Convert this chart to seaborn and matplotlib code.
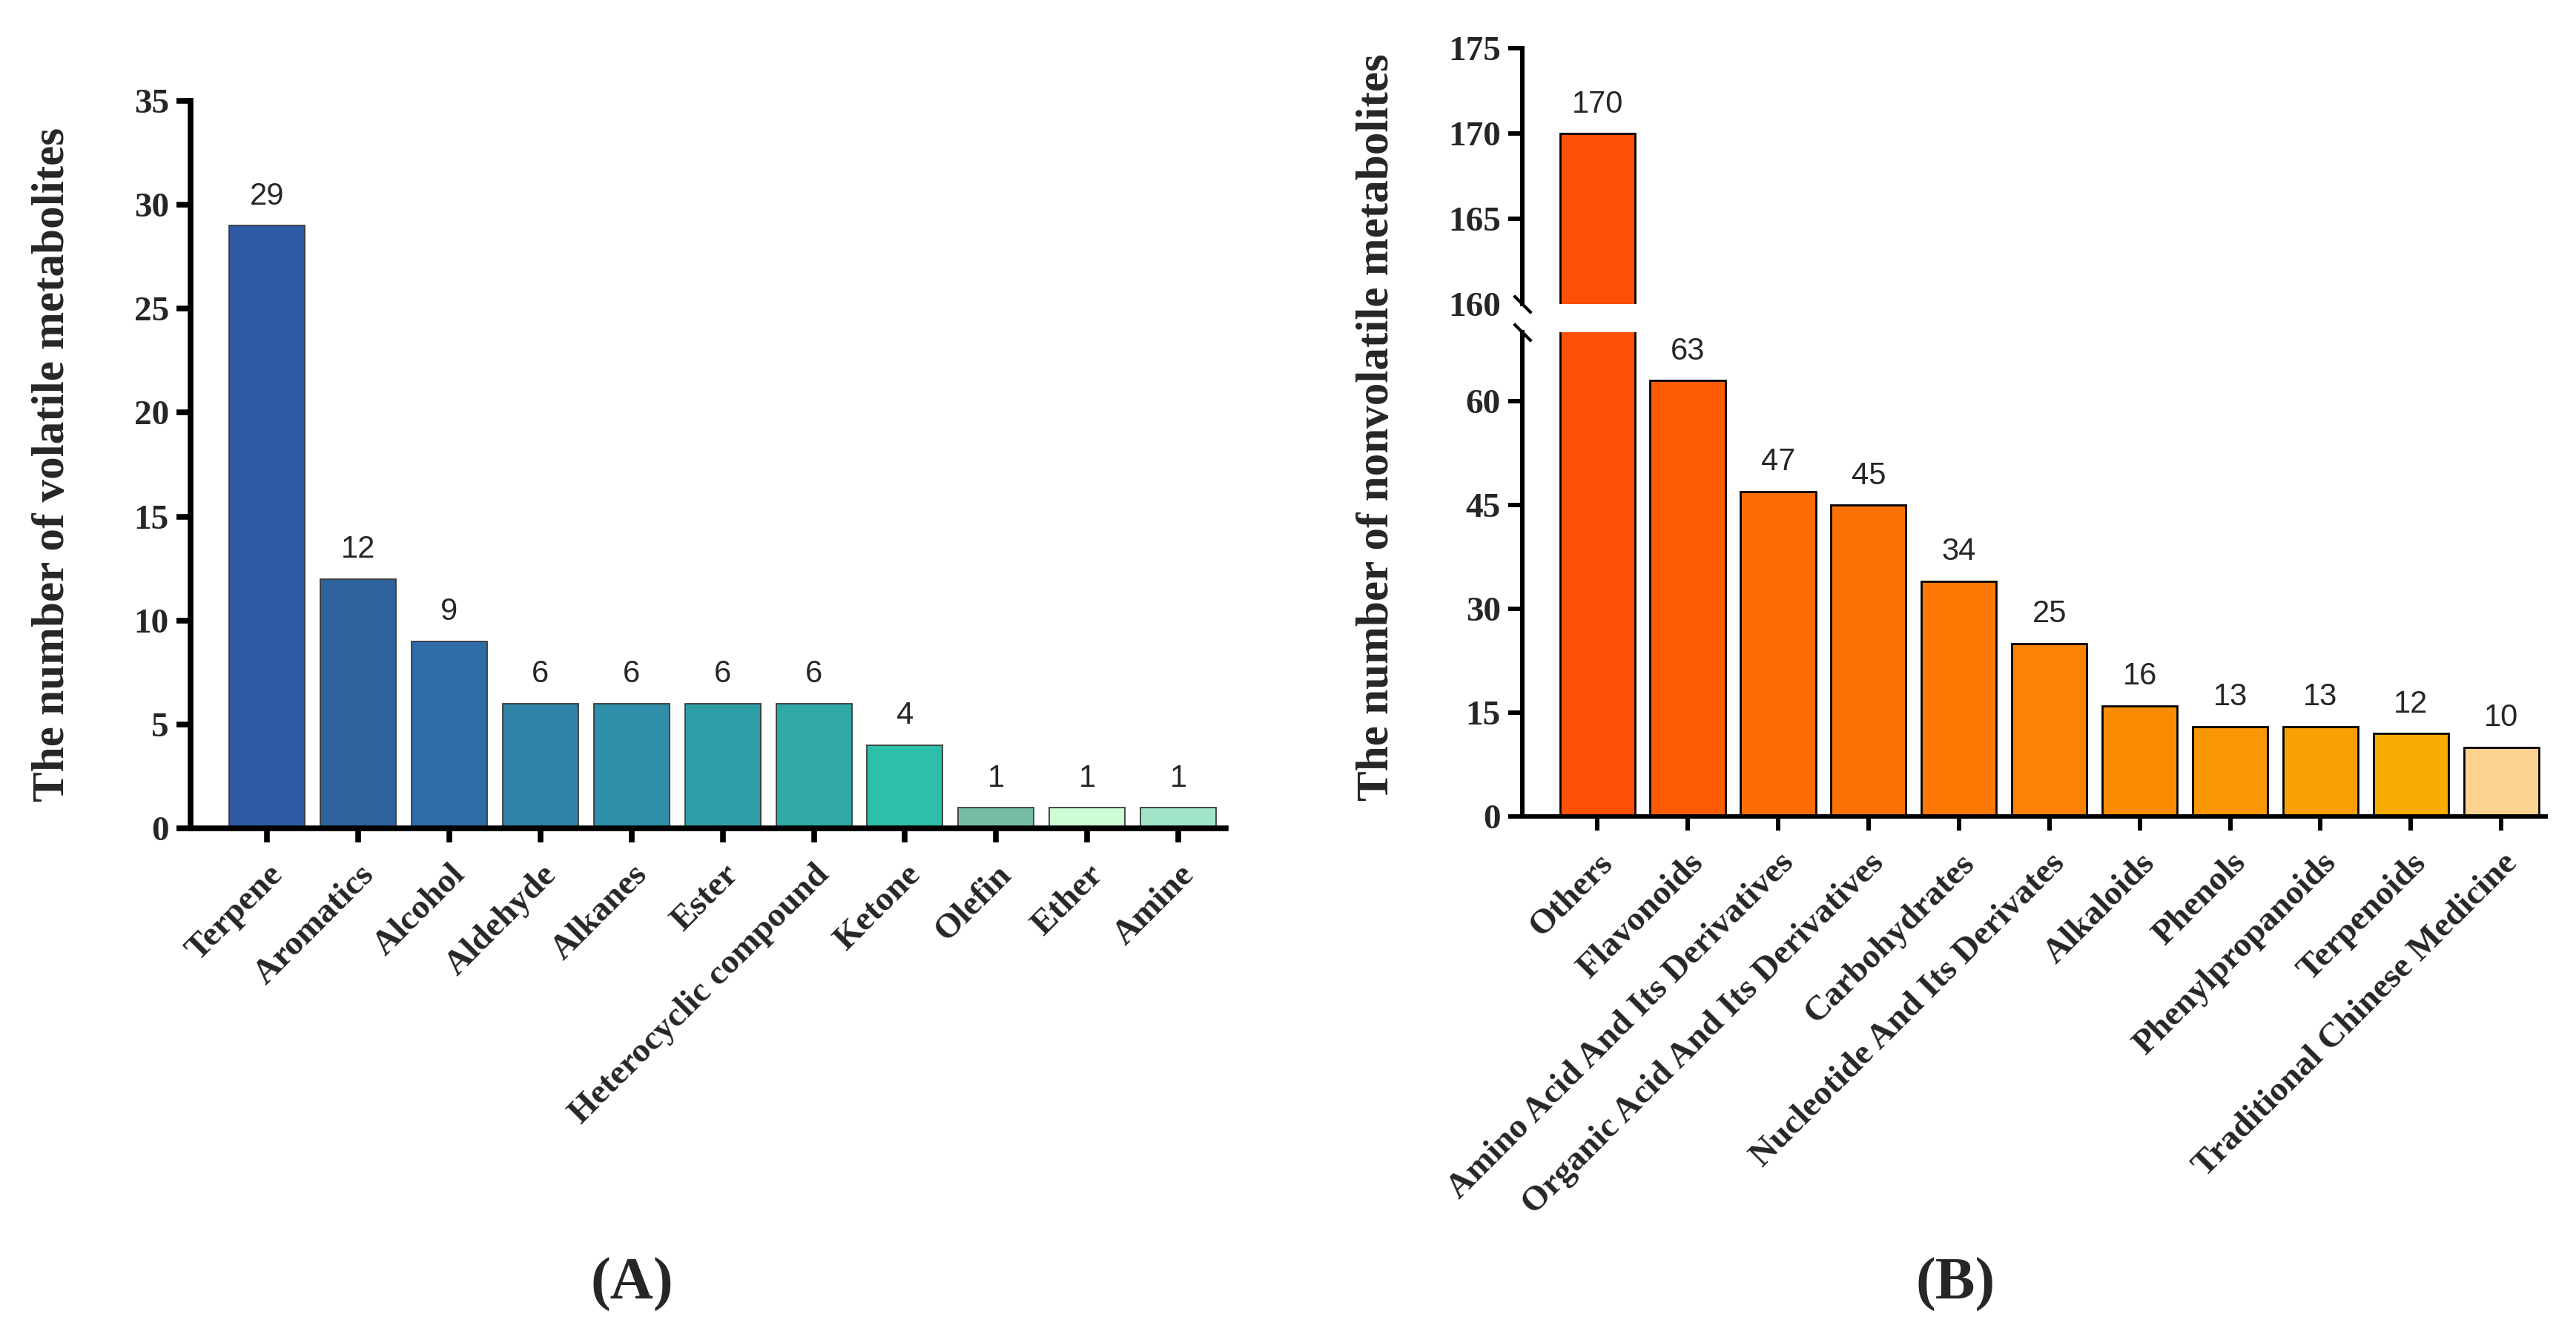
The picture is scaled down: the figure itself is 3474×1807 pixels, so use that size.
import seaborn as sns
import pandas as pd
import numpy as np
import matplotlib.pyplot as plt

# panel A - volatile metabolites
vol_cats = ['Terpene', 'Aromatics', 'Alcohol', 'Aldehyde', 'Alkanes', 'Ester',
            'Heterocyclic compound', 'Ketone', 'Olefin', 'Ether', 'Amine']
vol_counts = [29, 12, 9, 6, 6, 6, 6, 4, 1, 1, 1]
vol_colors = ['#2E59A5', '#2E629B', '#2E6CA8', '#2E83A6', '#2F8EA8', '#2E9EA6',
              '#2FA8A6', '#2DBFA9', '#77BDA5', '#CDFDD4', '#A0E5C8']

# panel B - nonvolatile metabolites
nonvol_cats = ['Others', 'Flavonoids', 'Amino Acid And Its Derivatives',
               'Organic Acid And Its Derivatives', 'Carbohydrates',
               'Nucleotide And Its Derivates', 'Alkaloids', 'Phenols',
               'Phenylpropanoids', 'Terpenoids', 'Traditional Chinese Medicine']
nonvol_counts = [170, 63, 47, 45, 34, 25, 16, 13, 13, 12, 10]
nonvol_colors = ['#FC5105', '#FC5D04', '#FB6C04', '#FB7104', '#FB7805', '#FB8205',
                 '#FA8C04', '#FA9704', '#FA9F04', '#F9AD03', '#FDD18F']

sns.set_style('ticks')
plt.rcParams['font.family'] = ['Liberation Serif', 'DejaVu Serif']

TICK_FS = 34
LABEL_FS = 44
VAL_FS = 30

fig = plt.figure(figsize=(34.74, 18.07), dpi=100)

def style_axis(ax, lw):
    for s in ['top', 'right']:
        ax.spines[s].set_visible(False)
    for s in ['left', 'bottom']:
        ax.spines[s].set_linewidth(lw)
        ax.spines[s].set_color('black')
    ax.tick_params(axis='both', width=lw, length=14, color='black',
                   labelsize=TICK_FS, pad=7)
    for lab in ax.get_yticklabels() + ax.get_xticklabels():
        lab.set_fontweight('bold')

# ---------- A ----------
axA = fig.add_axes([0.07398, 0.38184, 0.40184, 0.54289])
dfA = pd.DataFrame({'cat': vol_cats, 'n': vol_counts})
sns.barplot(data=dfA, x='cat', y='n', hue='cat', palette=vol_colors, legend=False,
            saturation=1, width=0.83, edgecolor='#3a3a3a', linewidth=1.3, ax=axA)
axA.set_xlim(-0.84, 10.52)
axA.set_ylim(0, 35)
axA.set_yticks(range(0, 36, 5))
axA.set_xlabel('')
axA.set_ylabel('The number of volatile metabolites', fontsize=LABEL_FS, fontweight='bold')
axA.yaxis.set_label_coords(-0.113, 0.5)
style_axis(axA, 5.5)
axA.set_xticks(range(len(vol_cats)))
axA.set_xticklabels(vol_cats, rotation=45, ha='right', va='top', rotation_mode='anchor',
                    fontsize=TICK_FS, fontweight='bold')
axA.tick_params(axis='x', pad=16)
for c in axA.containers:
    axA.bar_label(c, padding=14, fontsize=VAL_FS, family='Liberation Sans')

# ---------- B (broken axis) ----------
dfB = pd.DataFrame({'cat': nonvol_cats, 'n': nonvol_counts})
axB = fig.add_axes([0.59096, 0.39070, 0.39724, 0.36137])
axB_top = fig.add_axes([0.59096, 0.77310, 0.39724, 0.19092])
for ax in (axB, axB_top):
    sns.barplot(data=dfB, x='cat', y='n', hue='cat', palette=nonvol_colors, legend=False,
                saturation=1, width=0.83, edgecolor='black', linewidth=2.0, ax=ax)
    ax.set_xlim(-0.83, 10.49)
    ax.set_xlabel('')
    ax.set_ylabel('')

axB.set_ylim(0, 70)
axB.set_yticks([0, 15, 30, 45, 60])
style_axis(axB, 4.3)
axB.set_xticks(range(len(nonvol_cats)))
axB.set_xticklabels(nonvol_cats, rotation=45, ha='right', va='top', rotation_mode='anchor',
                    fontsize=TICK_FS, fontweight='bold')
axB.tick_params(axis='x', pad=16)
for c in axB.containers:
    labs = ['' if v > 70 else f'{v:g}' for v in c.datavalues]
    axB.bar_label(c, labels=labs, padding=14, fontsize=VAL_FS, family='Liberation Sans')

axB_top.set_ylim(160, 175)
axB_top.set_yticks([160, 165, 170, 175])
style_axis(axB_top, 4.3)
axB_top.spines['bottom'].set_visible(False)
axB_top.tick_params(axis='x', bottom=False, labelbottom=False)
axB_top.yaxis.get_major_ticks()[0].tick1line.set_visible(False)
for c in axB_top.containers:
    labs = [f'{v:g}' if v > 70 else '' for v in c.datavalues]
    axB_top.bar_label(c, labels=labs, padding=14, fontsize=VAL_FS, family='Liberation Sans')

# break marks on the y axis
kw = dict(marker=[(-1, 1), (1, -1)], markersize=17, linestyle='none',
          color='black', mec='black', mew=3, clip_on=False)
axB_top.plot([0], [0], transform=axB_top.transAxes, **kw)
axB.plot([0], [1], transform=axB.transAxes, **kw)

fig.text(0.5345, 0.681, 'The number of nonvolatile metabolites', rotation=90,
         ha='center', va='center', fontsize=LABEL_FS, fontweight='bold')

fig.text(0.2452, 0.041, '(A)', ha='center', va='center', fontsize=58, fontweight='bold')
fig.text(0.759, 0.041, '(B)', ha='center', va='center', fontsize=58, fontweight='bold')

fig.savefig('out.png', dpi=100)
